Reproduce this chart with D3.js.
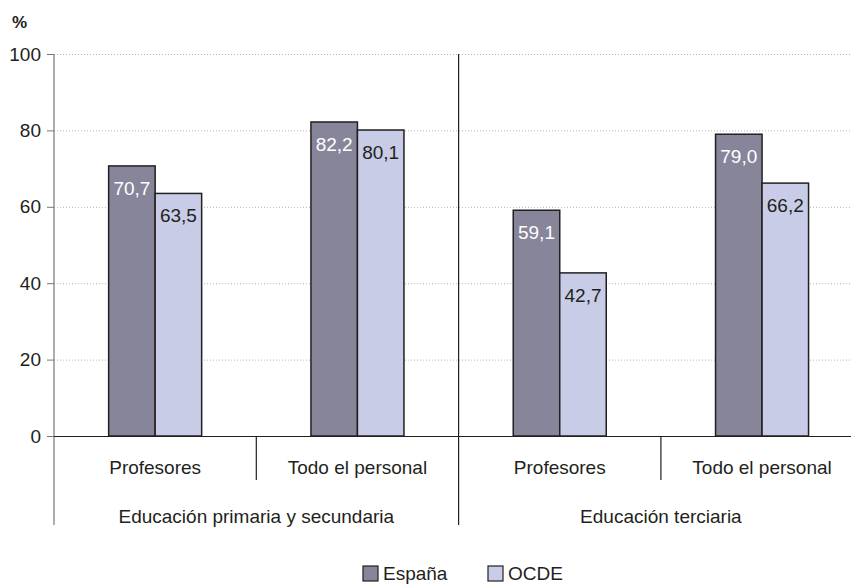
<!DOCTYPE html>
<html>
<head>
<meta charset="utf-8">
<script src="https://cdn.jsdelivr.net/npm/d3@7"></script>
<style>
  body { margin: 0; background: #fff; }
  svg { display: block; font-family: "Liberation Sans", Arial, sans-serif; }
</style>
</head>
<body>
<svg id="chart" width="851" height="584"></svg>
<script>
  const categories = ["Profesores", "Todo el personal", "Profesores ", "Todo el personal "];
  const groups = ["Educación primaria y secundaria", "Educación terciaria"];
  const series = ["España", "OCDE"];
  const espana = [70.7, 82.2, 59.1, 79.0];
  const ocde = [63.5, 80.1, 42.7, 66.2];
  const yTicks = [0, 20, 40, 60, 80, 100];

(function () {
  "use strict";

  const colors = { "España": "#878599", "OCDE": "#c8cce6" };
  const labelColors = { "España": "#ffffff", "OCDE": "#231f20" };
  const fs = 19;

  const svg = d3.select("#chart");
  const left = 54, plotTop = 54, baseY = 436;
  const x0 = d3.scaleBand().domain(categories).range([left, left + 4 * 202.3]).padding(0);
  const x1 = d3.scaleBand().domain(series).range([0, x0.bandwidth()]).paddingInner(0).paddingOuter(1.175);
  const y = d3.scaleLinear().domain([0, 100]).range([baseY, plotTop]);

  const rows = categories.map((c, i) => ({ cat: c, values: [
    { s: "España", v: espana[i] }, { s: "OCDE", v: ocde[i] }
  ] }));

  // grid
  svg.append("g").selectAll("line")
    .data(yTicks.filter((t) => t > 0))
    .join("line")
    .attr("x1", left).attr("x2", 851)
    .attr("y1", (d) => y(d) + 0.5).attr("y2", (d) => y(d) + 0.5)
    .attr("stroke", "#b5b5b5").attr("stroke-width", 1)
    .attr("stroke-dasharray", "1,2");

  // bars
  const cg = svg.append("g").selectAll("g")
    .data(rows).join("g")
    .attr("transform", (d) => `translate(${x0(d.cat)},0)`);

  cg.selectAll("rect")
    .data((d) => d.values).join("rect")
    .attr("x", (d) => x1(d.s))
    .attr("y", (d) => y(d.v))
    .attr("width", x1.bandwidth())
    .attr("height", (d) => baseY - y(d.v))
    .attr("fill", (d) => colors[d.s])
    .attr("stroke", "#231f20").attr("stroke-width", 1.5);

  cg.selectAll("text")
    .data((d) => d.values).join("text")
    .attr("x", (d) => x1(d.s) + x1.bandwidth() / 2)
    .attr("y", (d) => y(d.v) + 29)
    .attr("text-anchor", "middle")
    .attr("font-size", fs)
    .attr("fill", (d) => labelColors[d.s])
    .text((d) => d3.format(".1f")(d.v).replace(".", ","));

  // y axis
  const yAxis = svg.append("g")
    .attr("transform", `translate(${left},0)`)
    .call(d3.axisLeft(y).tickValues(yTicks).tickSize(7).tickPadding(6));
  yAxis.select(".domain").remove();
  yAxis.selectAll(".tick line").attr("stroke", "#777");
  yAxis.selectAll(".tick text")
    .attr("font-size", fs).attr("fill", "#231f20")
    .attr("font-family", "Liberation Sans, Arial, sans-serif");
  svg.append("line")
    .attr("x1", left).attr("x2", left)
    .attr("y1", plotTop).attr("y2", 525)
    .attr("stroke", "#777").attr("stroke-width", 1.2);

  // baseline
  svg.append("line")
    .attr("x1", left).attr("x2", 851)
    .attr("y1", baseY + 0.5).attr("y2", baseY + 0.5)
    .attr("stroke", "#231f20").attr("stroke-width", 1.2);

  // category separators and labels
  svg.append("g").selectAll("line")
    .data([1, 3])
    .join("line")
    .attr("x1", (i) => x0(categories[i])).attr("x2", (i) => x0(categories[i]))
    .attr("y1", baseY).attr("y2", 480)
    .attr("stroke", "#231f20").attr("stroke-width", 1.2);

  const groupX = x0(categories[2]);
  svg.append("line")
    .attr("x1", groupX).attr("x2", groupX)
    .attr("y1", plotTop).attr("y2", 525)
    .attr("stroke", "#231f20").attr("stroke-width", 1.2);

  svg.append("g").selectAll("text")
    .data(categories).join("text")
    .attr("x", (d) => x0(d) + x0.bandwidth() / 2)
    .attr("y", 474)
    .attr("text-anchor", "middle")
    .attr("font-size", fs).attr("fill", "#231f20")
    .text((d) => d.trim());

  svg.append("g").selectAll("text")
    .data(groups).join("text")
    .attr("x", (d, i) => x0(categories[i * 2]) + x0.bandwidth())
    .attr("y", 523)
    .attr("text-anchor", "middle")
    .attr("font-size", fs).attr("fill", "#231f20")
    .text((d) => d);

  // unit label
  svg.append("text")
    .attr("x", 12).attr("y", 28)
    .attr("font-size", 17).attr("font-weight", "bold").attr("fill", "#231f20")
    .text("%");

  // legend
  const legendX = [363, 488];
  const lg = svg.append("g").selectAll("g")
    .data(series).join("g")
    .attr("transform", (d, i) => `translate(${legendX[i]},566)`);
  lg.append("rect")
    .attr("width", 15).attr("height", 15)
    .attr("fill", (d) => colors[d])
    .attr("stroke", "#231f20").attr("stroke-width", 1.2);
  lg.append("text")
    .attr("x", 20).attr("y", 14)
    .attr("font-size", fs).attr("fill", "#231f20")
    .text((d) => d);
})();
</script>
</body>
</html>
